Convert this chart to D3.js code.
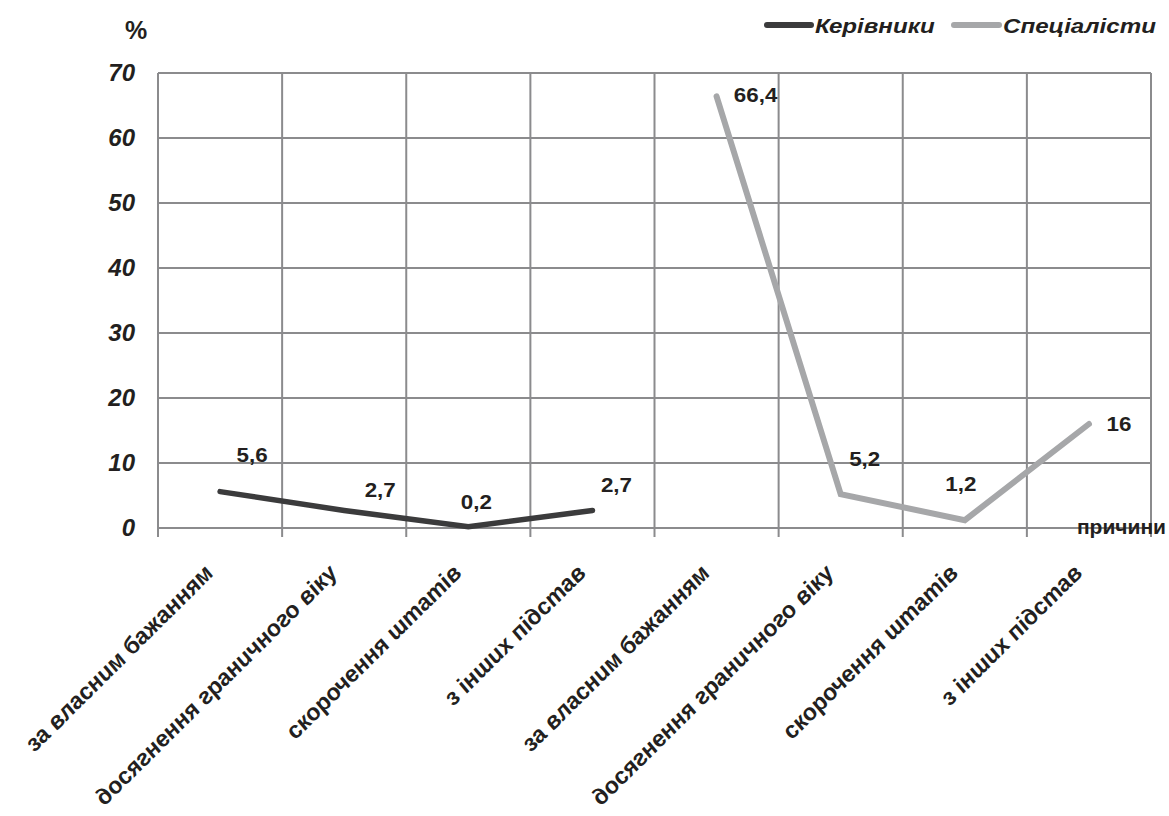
<!DOCTYPE html>
<html>
<head>
<meta charset="utf-8">
<script src="https://cdn.jsdelivr.net/npm/d3@7"></script>
<style>
  html, body { margin: 0; padding: 0; background: #fff; }
  svg { display: block; font-family: "Liberation Sans", Arial, sans-serif; }
</style>
</head>
<body>
<svg id="chart" width="1169" height="816"></svg>
<script>
// Reasons for leaving service, % of each group
const categories = [
  "за власним бажанням",
  "досягнення граничного віку",
  "скорочення штатів",
  "з інших підстав",
  "за власним бажанням",
  "досягнення граничного віку",
  "скорочення штатів",
  "з інших підстав"
];
const seriesNames = ["Керівники", "Спеціалісти"];
const kerivnyky   = [5.6, 2.7, 0.2, 2.7, null, null, null, null];
const specialisty = [null, null, null, null, 66.4, 5.2, 1.2, 16];
const yTicks = [0, 10, 20, 30, 40, 50, 60, 70];

// label placement relative to its point (dx, dy of baseline centre)
const labelOffsets = [
  [32, -30], [36, -13], [8, -18], [24, -18],
  [39, 6], [24, -28], [-4, -29], [30, 7]
];

const colors = { kerivnyky: "#3b3b3c", specialisty: "#a6a7a9", grid: "#8b8b8d", text: "#231f20" };

const svg = d3.select("#chart");
const plot = { left: 158, right: 1151, top: 73, bottom: 528 };

const idx = categories.map((_, i) => i);
const band = d3.scaleBand().domain(idx).range([plot.left, plot.right]).padding(0);
const x = d3.scalePoint().domain(idx).range([plot.left, plot.right]).padding(0.5);
const y = d3.scaleLinear().domain([0, 70]).range([plot.bottom, plot.top]);

// horizontal gridlines
svg.append("g").selectAll("line").data(yTicks).join("line")
  .attr("x1", plot.left).attr("x2", plot.right)
  .attr("y1", d => y(d)).attr("y2", d => y(d))
  .attr("stroke", colors.grid).attr("stroke-width", 2);

// vertical gridlines with ticks below the baseline
const bounds = idx.map(i => band(i)).concat([plot.right]);
svg.append("g").selectAll("line").data(bounds).join("line")
  .attr("x1", d => d).attr("x2", d => d)
  .attr("y1", plot.top).attr("y2", plot.bottom + 9)
  .attr("stroke", colors.grid).attr("stroke-width", 2);

// y-axis labels
svg.append("g").selectAll("text").data(yTicks).join("text")
  .attr("x", 135).attr("y", d => y(d) + 8)
  .attr("text-anchor", "end")
  .attr("font-size", 24).attr("font-weight", "bold").attr("font-style", "italic")
  .attr("fill", colors.text)
  .text(d => d);

svg.append("text").attr("x", 136).attr("y", 39).attr("text-anchor", "middle")
  .attr("font-size", 25).attr("font-weight", "bold").attr("fill", colors.text).text("%");

// category labels, rotated and slightly widened
svg.append("g").selectAll("text").data(idx).join("text")
  .attr("transform", i => `translate(${x(i) - 5},${plot.bottom + 46}) scale(1.12,1) rotate(-48)`)
  .attr("text-anchor", "end")
  .attr("font-size", 22).attr("font-weight", "bold").attr("font-style", "italic")
  .attr("fill", colors.text)
  .text(i => categories[i]);

svg.append("text").attr("x", 1166).attr("y", 534).attr("text-anchor", "end")
  .attr("font-size", 21).attr("font-weight", "bold").attr("fill", colors.text)
  .text("причини");

// series lines
const line = d3.line()
  .defined(d => d.v != null)
  .x(d => x(d.i)).y(d => y(d.v));

const series = [
  { values: kerivnyky, color: colors.kerivnyky, width: 5.5 },
  { values: specialisty, color: colors.specialisty, width: 6 }
];
series.forEach(s => {
  const pts = s.values.map((v, i) => ({ i, v }));
  svg.append("path").datum(pts)
    .attr("d", line)
    .attr("fill", "none").attr("stroke", s.color).attr("stroke-width", s.width)
    .attr("stroke-linecap", "round").attr("stroke-linejoin", "miter");
});

// value labels
const labelData = idx.map(i => ({ i, v: kerivnyky[i] != null ? kerivnyky[i] : specialisty[i] }));
svg.append("g").selectAll("text").data(labelData).join("text")
  .attr("transform", d => `translate(${x(d.i) + labelOffsets[d.i][0]},${y(d.v) + labelOffsets[d.i][1]}) scale(1.12,1)`)
  .attr("text-anchor", "middle")
  .attr("font-size", 20).attr("font-weight", "bold").attr("fill", colors.text)
  .text(d => String(d.v).replace(".", ","));

// legend
const legend = svg.append("g");
const legendItems = [
  { name: seriesNames[0], color: colors.kerivnyky, x1: 767, x2: 811, tx: 815 },
  { name: seriesNames[1], color: colors.specialisty, x1: 954, x2: 999, tx: 1003 }
];
legendItems.forEach(d => {
  legend.append("line").attr("x1", d.x1).attr("x2", d.x2).attr("y1", 25).attr("y2", 25)
    .attr("stroke", d.color).attr("stroke-width", 6).attr("stroke-linecap", "round");
  legend.append("text")
    .attr("transform", `translate(${d.tx},33) scale(1.15,1)`)
    .attr("font-size", 21).attr("font-weight", "bold").attr("font-style", "italic")
    .attr("fill", colors.text).text(d.name);
});
</script>
</body>
</html>
